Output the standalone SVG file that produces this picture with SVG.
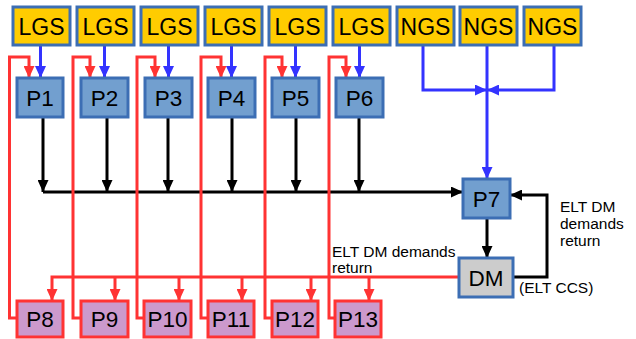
<svg xmlns="http://www.w3.org/2000/svg" width="636" height="339" viewBox="0 0 636 339">
<style>
.box{stroke:#3c6eb4;stroke-width:3}
.gs{fill:#ffcc00}
.p{fill:#729fcf}
.dm{fill:#cccccc}
.pk{fill:#cc99cc;stroke:#ff3333;stroke-width:3}
.t{font-family:"Liberation Sans",Arial,sans-serif;font-size:22.5px;fill:#000;text-anchor:middle}
.g{font-size:23px}
.s{font-family:"Liberation Sans",Arial,sans-serif;font-size:15.5px;fill:#000}
.k{fill:none;stroke:#000;stroke-width:3}
.b{fill:none;stroke:#3333ff;stroke-width:3}
.r{fill:none;stroke:#ff3333;stroke-width:3}
</style>
<defs>
<marker id="ak" markerUnits="userSpaceOnUse" markerWidth="12" markerHeight="11" refX="12" refY="5.5" orient="auto"><path d="M0,0 L12,5.5 L0,11 z" fill="#000"/></marker>
<marker id="ab" markerUnits="userSpaceOnUse" markerWidth="12" markerHeight="11" refX="12" refY="5.5" orient="auto"><path d="M0,0 L12,5.5 L0,11 z" fill="#3333ff"/></marker>
<marker id="ar" markerUnits="userSpaceOnUse" markerWidth="12" markerHeight="11" refX="12" refY="5.5" orient="auto"><path d="M0,0 L12,5.5 L0,11 z" fill="#ff3333"/></marker>
</defs>
<g id="connectors">
<path class="b" marker-end="url(#ab)" d="M40.5,45 V78"/>
<path class="b" marker-end="url(#ab)" d="M104.5,45 V78"/>
<path class="b" marker-end="url(#ab)" d="M168.5,45 V78"/>
<path class="b" marker-end="url(#ab)" d="M231.5,45 V78"/>
<path class="b" marker-end="url(#ab)" d="M295.5,45 V78"/>
<path class="b" marker-end="url(#ab)" d="M359.5,45 V78"/>
<path class="b" marker-end="url(#ab)" d="M423,45 V90 H487"/>
<path class="b" marker-end="url(#ab)" d="M554,45 V90 H487"/>
<path class="b" marker-end="url(#ab)" d="M487,45 V179"/>
<path class="k" marker-end="url(#ak)" d="M43,117 V192"/>
<path class="k" marker-end="url(#ak)" d="M107,117 V192"/>
<path class="k" marker-end="url(#ak)" d="M168,117 V192"/>
<path class="k" marker-end="url(#ak)" d="M232,117 V192"/>
<path class="k" marker-end="url(#ak)" d="M296,117 V192"/>
<path class="k" marker-end="url(#ak)" d="M359,117 V192"/>
<path class="k" marker-end="url(#ak)" d="M43,192 H463"/>
<path class="k" marker-end="url(#ak)" d="M487,218 V258"/>
<path class="k" marker-end="url(#ak)" d="M513,277 H547 V195 H510"/>
<path class="r" marker-end="url(#ar)" d="M17,318 H9.5 V57 H29 V78"/>
<path class="r" marker-end="url(#ar)" d="M81,318 H73 V57 H90 V78"/>
<path class="r" marker-end="url(#ar)" d="M144,318 H137 V57 H155 V78"/>
<path class="r" marker-end="url(#ar)" d="M208,318 H201 V57 H221 V78"/>
<path class="r" marker-end="url(#ar)" d="M272,318 H265 V57 H282 V78"/>
<path class="r" marker-end="url(#ar)" d="M335,318 H329 V57 H346 V78"/>
<path class="r" marker-end="url(#ar)" d="M459,277 H52 V301"/>
<path class="r" marker-end="url(#ar)" d="M115,277 V301"/>
<path class="r" marker-end="url(#ar)" d="M179,277 V301"/>
<path class="r" marker-end="url(#ar)" d="M242,277 V301"/>
<path class="r" marker-end="url(#ar)" d="M311,277 V301"/>
<path class="r" marker-end="url(#ar)" d="M369,277 V301"/>
</g>
<g id="lgs1"><rect class="box gs" x="13" y="7" width="57" height="38"/><text class="t g" x="41.5" y="34.5">LGS</text></g>
<g id="lgs2"><rect class="box gs" x="77" y="7" width="57" height="38"/><text class="t g" x="105.5" y="34.5">LGS</text></g>
<g id="lgs3"><rect class="box gs" x="141" y="7" width="57" height="38"/><text class="t g" x="169.5" y="34.5">LGS</text></g>
<g id="lgs4"><rect class="box gs" x="205" y="7" width="57" height="38"/><text class="t g" x="233.5" y="34.5">LGS</text></g>
<g id="lgs5"><rect class="box gs" x="269" y="7" width="57" height="38"/><text class="t g" x="297.5" y="34.5">LGS</text></g>
<g id="lgs6"><rect class="box gs" x="333" y="7" width="57" height="38"/><text class="t g" x="361.5" y="34.5">LGS</text></g>
<g id="ngs1"><rect class="box gs" x="397" y="7" width="57" height="38"/><text class="t g" x="425.5" y="34.5">NGS</text></g>
<g id="ngs2"><rect class="box gs" x="460" y="7" width="57" height="38"/><text class="t g" x="488.5" y="34.5">NGS</text></g>
<g id="ngs3"><rect class="box gs" x="524" y="7" width="57" height="38"/><text class="t g" x="552.5" y="34.5">NGS</text></g>
<g id="p1"><rect class="box p" x="17" y="78" width="46" height="39"/><text class="t" x="40" y="105.5">P1</text></g>
<g id="p2"><rect class="box p" x="81" y="78" width="47" height="39"/><text class="t" x="104.5" y="105.5">P2</text></g>
<g id="p3"><rect class="box p" x="145" y="78" width="47" height="39"/><text class="t" x="168.5" y="105.5">P3</text></g>
<g id="p4"><rect class="box p" x="208" y="78" width="47" height="39"/><text class="t" x="231.5" y="105.5">P4</text></g>
<g id="p5"><rect class="box p" x="272" y="78" width="47" height="39"/><text class="t" x="295.5" y="105.5">P5</text></g>
<g id="p6"><rect class="box p" x="336" y="78" width="47" height="39"/><text class="t" x="359.5" y="105.5">P6</text></g>
<g id="p7"><rect class="box p" x="463" y="179" width="47" height="39"/><text class="t" x="486.5" y="206.5">P7</text></g>
<g id="dm"><rect class="box dm" x="459" y="258" width="54" height="39"/><text class="t" x="486" y="285.5">DM</text></g>
<g id="p8"><rect class="pk" x="17" y="301" width="46" height="36"/><text class="t" x="40" y="327">P8</text></g>
<g id="p9"><rect class="pk" x="81" y="301" width="47" height="36"/><text class="t" x="104.5" y="327">P9</text></g>
<g id="p10"><rect class="pk" x="144" y="301" width="47" height="36"/><text class="t" x="167.5" y="327">P10</text></g>
<g id="p11"><rect class="pk" x="208" y="301" width="46" height="36"/><text class="t" x="231" y="327">P11</text></g>
<g id="p12"><rect class="pk" x="272" y="301" width="46" height="36"/><text class="t" x="295" y="327">P12</text></g>
<g id="p13"><rect class="pk" x="335" y="301" width="46" height="36"/><text class="t" x="358" y="327">P13</text></g>
<g id="labels">
<text class="s" x="560" y="212">ELT DM</text>
<text class="s" x="560" y="229">demands</text>
<text class="s" x="560" y="246">return</text>
<text class="s" x="519" y="293">(ELT CCS)</text>
<text class="s" x="332" y="257">ELT DM demands</text>
<text class="s" x="332" y="273">return</text>
</g>
</svg>
